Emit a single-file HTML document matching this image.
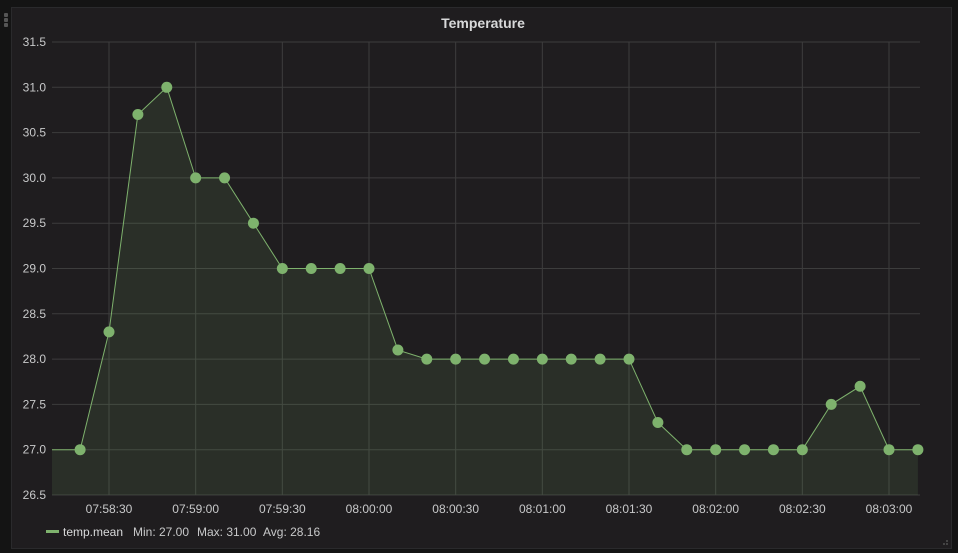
<!DOCTYPE html>
<html><head><meta charset="utf-8"><style>
body{margin:0;background:#141414;width:958px;height:553px;overflow:hidden;font-family:"Liberation Sans",sans-serif;}
</style></head><body>
<svg width="958" height="553" style="position:absolute;left:0;top:0">
<rect x="11.5" y="7.5" width="940" height="541" fill="#1f1d1f" stroke="#2a2a2c"/>
<g fill="#555"><rect x="4" y="13" width="4" height="4" rx="1"/><rect x="4" y="18" width="4" height="4" rx="1"/><rect x="4" y="23" width="4" height="4" rx="1"/></g>
<text x="483" y="28" text-anchor="middle" fill="#d8d9da" font-size="14" font-weight="bold">Temperature</text>
<defs><clipPath id="pc"><rect x="52" y="0" width="868" height="553"/></clipPath><clipPath id="mc"><rect x="52" y="0" width="880" height="553"/></clipPath></defs>
<g id="grid"></g><g id="series" clip-path="url(#pc)"></g><g id="markers" clip-path="url(#mc)"></g><g id="axes"></g>
<rect x="46" y="530" width="13" height="3" fill="#7eb26d"/>
<g font-size="12" fill="#d8d9da">
<text x="63" y="536">temp.mean</text>
<text x="133" y="536" fill="#c8c9ca">Min: 27.00</text>
<text x="197" y="536" fill="#c8c9ca">Max: 31.00</text>
<text x="263" y="536" fill="#c8c9ca">Avg: 28.16</text>
</g>
<g fill="#444"><rect x="946" y="543" width="2" height="2"/><rect x="943" y="543" width="2" height="2"/><rect x="946" y="540" width="2" height="2"/></g>
</svg>
<script>
const yTicks=[26.5,27.0,27.5,28.0,28.5,29.0,29.5,30.0,30.5,31.0,31.5];
const xTickLabels=["07:58:30","07:59:00","07:59:30","08:00:00","08:00:30","08:01:00","08:01:30","08:02:00","08:02:30","08:03:00"];
const times=["07:58:10","07:58:20","07:58:30","07:58:40","07:58:50","07:59:00","07:59:10","07:59:20","07:59:30","07:59:40","07:59:50","08:00:00","08:00:10","08:00:20","08:00:30","08:00:40","08:00:50","08:01:00","08:01:10","08:01:20","08:01:30","08:01:40","08:01:50","08:02:00","08:02:10","08:02:20","08:02:30","08:02:40","08:02:50","08:03:00","08:03:10"];
const values=[27.0,27.0,28.3,30.7,31.0,30.0,30.0,29.5,29.0,29.0,29.0,29.0,28.1,28.0,28.0,28.0,28.0,28.0,28.0,28.0,28.0,27.3,27.0,27.0,27.0,27.0,27.0,27.5,27.7,27.0,27.0];
const NS="http://www.w3.org/2000/svg";
function sec(t){const p=t.split(":").map(Number);return p[0]*3600+p[1]*60+p[2];}
const t0=sec("07:58:30"),x0=109,pxs=780/270;
function X(t){return x0+(sec(t)-t0)*pxs;}
function Y(v){return 42+(31.5-v)*90.6;}
function mk(tag,attrs,parent){const e=document.createElementNS(NS,tag);for(const k in attrs)e.setAttribute(k,attrs[k]);parent.appendChild(e);return e;}
const grid=document.getElementById('grid'),axes=document.getElementById('axes'),ser=document.getElementById('series'),mks=document.getElementById('markers');
yTicks.forEach(v=>{
 const l=mk('line',{x1:52,x2:920,y1:Y(v),y2:Y(v),stroke:'#3d3d3d','stroke-width':1},grid);
 
 
 const t=mk('text',{x:46,y:Y(v)+4,'text-anchor':'end',fill:'#c8c9ca','font-size':12},axes);
 t.textContent=v.toFixed(1);
 
 
});
xTickLabels.forEach(s=>{
 const l=mk('line',{x1:X(s),x2:X(s),y1:42,y2:495,stroke:'#3d3d3d','stroke-width':1},grid);
 
 
 const t=mk('text',{x:X(s),y:513,'text-anchor':'middle',fill:'#c8c9ca','font-size':12},axes);
 t.textContent=s;
 
 
});
let d='';times.forEach((t,i)=>{d+=(i?'L':'M')+X(t)+','+Y(values[i]);});
const area=mk('path',{d:d+'L'+X(times[times.length-1])+','+Y(26.5)+'L'+X(times[0])+','+Y(26.5)+'Z',fill:'#7eb26d','fill-opacity':0.12},ser);


const line=mk('path',{d:d,fill:'none',stroke:'#7eb26d','stroke-width':1},ser);


times.forEach((t,i)=>{if(i===0)return;
 const c=mk('circle',{cx:X(t),cy:Y(values[i]),r:5.5,fill:'#7eb26d'},mks);
 
 
});
</script>
</body></html>
